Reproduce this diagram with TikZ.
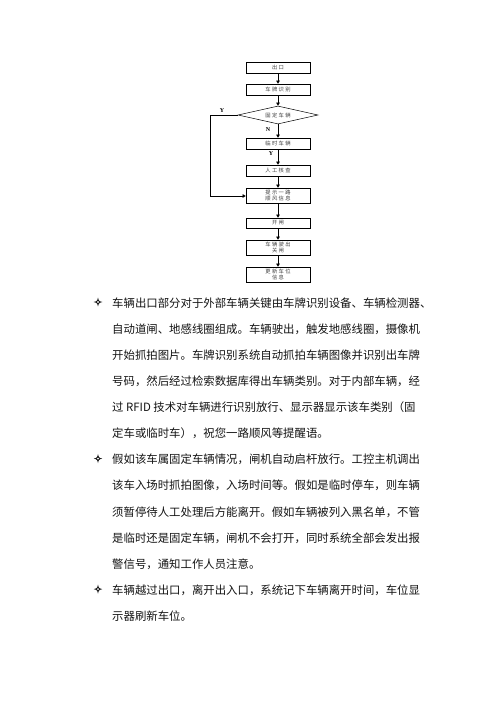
\documentclass[tikz,border=0pt]{standalone}
\usepackage{fontspec}
\setmainfont{Noto Sans CJK SC}
\newfontfamily\cjk{Noto Sans CJK SC}
\newfontfamily\cjkwide[LetterSpace=25]{Noto Sans CJK SC}
\newfontfamily\symfont[FakeBold=2.5]{DejaVu Sans}
\newfontfamily\lblfont{Liberation Serif}
\usetikzlibrary{arrows.meta,shapes.geometric}
\begin{document}
\begin{tikzpicture}[x=1pt,y=-1pt,
  flowbox/.style={draw=black,line width=0.5pt,minimum width=64pt,inner sep=0pt,align=center,font=\cjkwide\fontsize{5.3}{6.3}\selectfont,text=black!75},
  decide/.style={draw=black,line width=0.5pt,diamond,aspect=4.4,minimum width=80pt,minimum height=18pt,inner sep=0pt,font=\cjkwide\fontsize{5.3}{6.3}\selectfont,text=black!75},
  arr/.style={line width=0.5pt,-{Triangle[length=3.2pt,width=3.6pt]}},
  lbl/.style={font=\lblfont\bfseries\fontsize{6}{6}\selectfont,inner sep=0pt},
  txt/.style={anchor=west,inner sep=0pt,font=\cjk\fontsize{11.4}{12}\selectfont,text=black!92},
  bul/.style={inner sep=0pt,font=\symfont\fontsize{10}{11}\selectfont,text=black!90}]
\useasboundingbox (0,0) rectangle (500,707);
\fill[white] (0,0) rectangle (500,707);
% flowchart
\node[flowbox,minimum height=11pt] (out) at (278,67.5) {出口};
\node[flowbox,minimum height=11pt] (plate) at (278,89.5) {车牌识别};
\node[decide] (fix) at (278,115) {固定车辆};
\node[flowbox,minimum height=11pt] (temp) at (278,143.5) {临时车辆};
\node[flowbox,minimum height=11pt] (manual) at (278,170.5) {人工核查};
\node[flowbox,minimum height=15pt] (tip) at (278,195.5) {提示一路\\顺风信息};
\node[flowbox,minimum height=10pt] (open) at (278,223) {开闸};
\node[flowbox,minimum height=15pt] (leave) at (278,247.5) {车辆驶出\\关闸};
\node[flowbox,minimum height=15pt] (upd) at (278,274.5) {更新车位\\信息};
\coordinate (c1) at (210,115);
\coordinate (c2) at (210,196);
\draw[arr] (out) -- (plate);
\draw[arr] (plate) -- (fix);
\draw[arr] (fix) -- (temp);
\draw[arr] (temp) -- (manual);
\draw[arr] (manual) -- (tip);
\draw[arr] (tip) -- (open);
\draw[arr] (open) -- (leave);
\draw[arr] (leave) -- (upd);
\draw[arr] (fix.west) -- (c1) -- (c2) -- (tip.west |- c2);
\node[lbl] (ly1) at (222,111) {Y};
\node[lbl] (ln) at (268,130) {N};
\node[lbl] (ly2) at (271,154) {Y};
% text
\node[bul] (b1) at (98,302) {✧};
\node[txt] (t1) at (112,303.0) {车辆出口部分对于外部车辆关键由车牌识别设备、车辆检测器、};
\node[txt] (t2) at (112,329.1) {自动道闸、地感线圈组成。车辆驶出，触发地感线圈，摄像机};
\node[txt] (t3) at (112,355.2) {开始抓拍图片。车牌识别系统自动抓拍车辆图像并识别出车牌};
\node[txt] (t4) at (112,381.3) {号码，然后经过检索数据库得出车辆类别。对于内部车辆，经};
\node[txt] (t5) at (112,407.4) {过 RFID 技术对车辆进行识别放行、显示器显示该车类别（固};
\node[txt] (t6) at (112,433.5) {定车或临时车），祝您一路顺风等提醒语。};
\node[bul] (b2) at (98,458.6) {✧};
\node[txt] (t7) at (112,459.6) {假如该车属固定车辆情况，闸机自动启杆放行。工控主机调出};
\node[txt] (t8) at (112,485.7) {该车入场时抓拍图像，入场时间等。假如是临时停车，则车辆};
\node[txt] (t9) at (112,511.8) {须暂停待人工处理后方能离开。假如车辆被列入黑名单，不管};
\node[txt] (t10) at (112,537.9) {是临时还是固定车辆，闸机不会打开，同时系统全部会发出报};
\node[txt] (t11) at (112,564.0) {警信号，通知工作人员注意。};
\node[bul] (b3) at (98,589.1) {✧};
\node[txt] (t12) at (112,590.1) {车辆越过出口，离开出入口，系统记下车辆离开时间，车位显};
\node[txt] (t13) at (112,616.2) {示器刷新车位。};
\end{tikzpicture}
\end{document}
